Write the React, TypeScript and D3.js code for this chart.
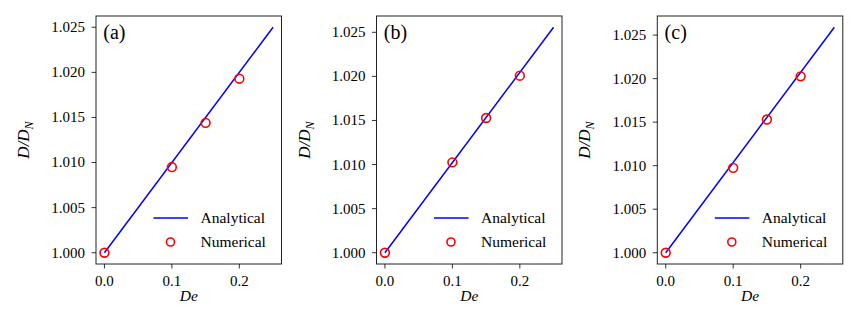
import * as d3 from "d3";
import React from "react";

// values
const panelLabels = ["(a)", "(b)", "(c)"];
const deAnalytical = [0, 0.25];
const analyticalA = [1.0, 1.025];
const analyticalB = [1.0, 1.02557];
const analyticalC = [1.0, 1.0259];
const deNumerical = [0, 0.1, 0.15, 0.2];
const numericalA = [1.0, 1.0095, 1.0144, 1.0193];
const numericalB = [1.0, 1.01025, 1.01528, 1.02008];
const numericalC = [1.0, 1.00975, 1.0153, 1.02026];
const xTicks = [0.0, 0.1, 0.2];
const yTicks = [1.0, 1.005, 1.01, 1.015, 1.02, 1.025];
const legendLabels = ["Analytical", "Numerical"];

const W = 859;
const H = 321;
const panelLeft = [96, 376.5, 657.3];
const panelTop = 16;
const panelW = 185.5;
const panelH = 248;
const font = "Liberation Serif, DejaVu Serif, Times New Roman, serif";

const padded = (lo: number, hi: number) => {
  const m = (hi - lo) * 0.05;
  return [lo - m, hi + m];
};

const Panel = ({ idx, analytical, numerical }) => {
  const x = d3
    .scaleLinear()
    .domain(padded(d3.min(deAnalytical), d3.max(deAnalytical)))
    .range([0, panelW]);
  const y = d3
    .scaleLinear()
    .domain(padded(d3.min(analytical), d3.max(analytical)))
    .range([panelH, 0]);

  const line = d3
    .line<number>()
    .x((d, i) => x(deAnalytical[i]))
    .y((d) => y(d));

  const fmtY = d3.format(".3f");
  const fmtX = d3.format(".1f");

  return (
    <g transform={`translate(${panelLeft[idx]},${panelTop})`}>
      <rect width={panelW} height={panelH} fill="white" />
      <path d={line(analytical)} fill="none" stroke="#0000ff" strokeWidth={1.5} />
      {numerical.map((v, i) => (
        <circle
          key={i}
          cx={x(deNumerical[i])}
          cy={y(v)}
          r={4.4}
          fill="none"
          stroke="#ff0000"
          strokeWidth={1.6}
        />
      ))}
      <rect width={panelW} height={panelH} fill="none" stroke="#222" strokeWidth={1} />

      {yTicks.map((t) => (
        <g key={t} transform={`translate(0,${y(t)})`}>
          <line x1={-4.5} x2={0} stroke="#000" strokeWidth={0.8} />
          <text x={-11} dy="0.33em" textAnchor="end" fontSize={15}>
            {fmtY(t)}
          </text>
        </g>
      ))}
      {xTicks.map((t) => (
        <g key={t} transform={`translate(${x(t)},${panelH})`}>
          <line y1={0} y2={4.5} stroke="#000" strokeWidth={0.8} />
          <text y={22} textAnchor="middle" fontSize={15}>
            {fmtX(t)}
          </text>
        </g>
      ))}

      <text x={panelW / 2} y={panelH + 36.5} textAnchor="middle" fontSize={15.5} fontStyle="italic">
        De
      </text>
      <text
        transform={`translate(${-67},${panelH / 2}) rotate(-90)`}
        textAnchor="middle"
        fontSize={17}
        fontStyle="italic"
      >
        D/D
        <tspan fontSize={12} dy={4}>
          N
        </tspan>
      </text>

      <text x={7.3} y={22.5} fontSize={20}>
        {panelLabels[idx]}
      </text>

      <g transform={`translate(${panelW - 128},${202})`}>
        <line x1={0} x2={34.5} stroke="#0000ff" strokeWidth={1.5} />
        <text x={47} dy="0.33em" fontSize={15.5}>
          {legendLabels[0]}
        </text>
        <circle cx={17} cy={24} r={4} fill="none" stroke="#ff0000" strokeWidth={1.6} />
        <text x={47} y={24} dy="0.33em" fontSize={15.5}>
          {legendLabels[1]}
        </text>
      </g>
    </g>
  );
};

const App = () => {
  const analytical = [analyticalA, analyticalB, analyticalC];
  const numerical = [numericalA, numericalB, numericalC];
  return (
    <svg
      width={W}
      height={H}
      style={{ position: "absolute", left: 0, top: 0, background: "white", fontFamily: font }}
    >
      {panelLabels.map((l, i) => (
        <Panel key={l} idx={i} analytical={analytical[i]} numerical={numerical[i]} />
      ))}
    </svg>
  );
};

export default App;
